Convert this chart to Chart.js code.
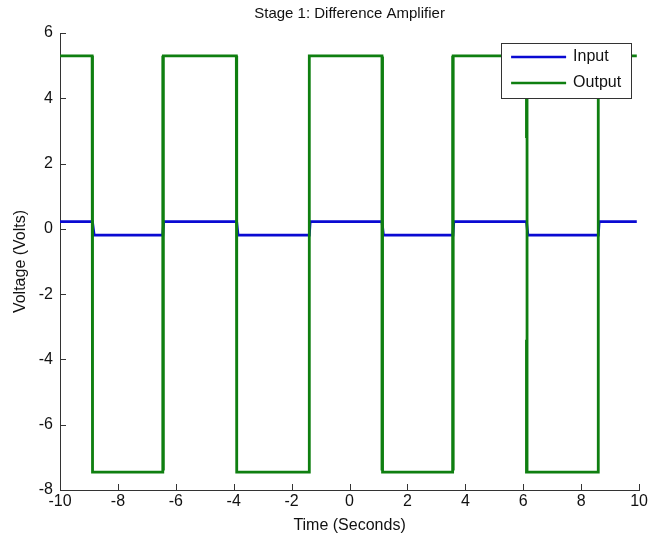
<!DOCTYPE html>
<html>
<head>
<meta charset="utf-8">
<script src="https://cdn.jsdelivr.net/npm/chart.js@4/dist/chart.umd.min.js"></script>
<style>
  html, body { margin: 0; padding: 0; background: #ffffff; }
  #wrap { width: 650px; height: 544px; position: relative; }
</style>
</head>
<body>
<div id="wrap"><canvas id="c" width="650" height="544"></canvas></div>
<script>
// ---- data ----
const chartTitle = 'Stage 1: Difference Amplifier';
const xTitle = 'Time (Seconds)';
const yTitle = 'Voltage (Volts)';
const seriesNames = ['Input', 'Output'];

const xTickValues = [-10, -8, -6, -4, -2, 0, 2, 4, 6, 8, 10];
const yTickValues = [-8, -6, -4, -2, 0, 2, 4, 6];

const inputTime = [-10, -8.88, -8.82, -6.45, -6.42, -3.90, -3.85, -1.39, -1.36, 1.12, 1.17, 3.57, 3.60, 6.11, 6.16, 8.59, 8.62, 9.92];
const inputVolt = [0.22, 0.22, -0.19, -0.19, 0.22, 0.22, -0.19, -0.19, 0.22, 0.22, -0.19, -0.19, 0.22, 0.22, -0.19, -0.19, 0.22, 0.22];

const outputTime = [-10, -8.89, -8.89, -8.87, -8.87,
                    -6.45, -6.45, -6.43, -6.43,
                    -3.91, -3.91, -3.89, -3.89,
                    -1.39, -1.39,
                    1.12, 1.12, 1.14, 1.14,
                    3.56, 3.56, 3.58, 3.58,
                    6.11, 6.11, 6.13, 6.13, 6.11, 6.11,
                    8.59, 8.59, 9.92];
const outputVolt = [5.3, 5.3, -1.16, 5.28, -7.45,
                    -7.45, 5.3, -7.4, 5.3,
                    5.3, 2.57, 5.28, -7.45,
                    -7.45, 5.3,
                    5.3, -7.4, 5.28, -7.45,
                    -7.45, 5.3, -7.4, 5.3,
                    5.3, 2.78, 5.28, -7.45, -3.4, -7.45,
                    -7.45, 5.3, 5.3];

const seriesColors = ['#0a0ad2', '#0f7f10'];

function pts(xs, ys) { return xs.map((x, i) => ({ x: x, y: ys[i] })); }

const FONT = "'Liberation Sans', Arial, sans-serif";

const inwardTicks = {
  id: 'inwardTicks',
  afterDraw(chart) {
    const ctx = chart.ctx;
    const a = chart.chartArea;
    const xs = chart.scales.x, ys = chart.scales.y;
    ctx.save();
    ctx.strokeStyle = '#333333';
    ctx.lineWidth = 1;
    ctx.beginPath();
    xs.ticks.forEach(t => {
      const px = Math.round(xs.getPixelForValue(t.value)) + 0.5;
      ctx.moveTo(px, a.bottom);
      ctx.lineTo(px, a.bottom - 6);
    });
    ys.ticks.forEach(t => {
      const py = Math.round(ys.getPixelForValue(t.value)) + 0.5;
      ctx.moveTo(a.left, py);
      ctx.lineTo(a.left + 6, py);
    });
    ctx.stroke();
    ctx.restore();
  }
};

const titleAndLegend = {
  id: 'titleAndLegend',
  afterDraw(chart) {
    const ctx = chart.ctx;
    const a = chart.chartArea;
    ctx.save();
    // title centred over the plotting area
    ctx.font = '15px ' + FONT;
    ctx.fillStyle = '#111111';
    ctx.textAlign = 'center';
    ctx.textBaseline = 'middle';
    ctx.fillText(chartTitle, (a.left + a.right) / 2, a.top - 19);
    // boxed legend in the upper right
    const w = 130, h = 55;
    const x0 = a.right - 8 - w, y0 = a.top + 10;
    ctx.fillStyle = '#ffffff';
    ctx.fillRect(x0, y0, w, h);
    ctx.strokeStyle = '#333333';
    ctx.lineWidth = 1;
    ctx.strokeRect(Math.round(x0) + 0.5, Math.round(y0) + 0.5, w, h);
    ctx.font = '16px ' + FONT;
    ctx.textAlign = 'left';
    ctx.fillStyle = '#111111';
    chart.data.datasets.forEach((ds, i) => {
      const yy = y0 + 14 + i * 26;
      ctx.strokeStyle = ds.borderColor;
      ctx.lineWidth = 2.5;
      ctx.beginPath();
      ctx.moveTo(x0 + 10, yy);
      ctx.lineTo(x0 + 65, yy);
      ctx.stroke();
      ctx.fillText(ds.label, x0 + 72, yy);
    });
    ctx.restore();
  }
};

new Chart(document.getElementById('c'), {
  type: 'scatter',
  data: {
    datasets: [
      { label: seriesNames[0], data: pts(inputTime, inputVolt), showLine: true, borderColor: seriesColors[0], backgroundColor: seriesColors[0], borderWidth: 2.8, pointRadius: 0, order: 1 },
      { label: seriesNames[1], data: pts(outputTime, outputVolt), showLine: true, borderColor: seriesColors[1], backgroundColor: seriesColors[1], borderWidth: 2.8, pointRadius: 0, order: 0 }
    ]
  },
  options: {
    responsive: false,
    animation: false,
    layout: { padding: { top: 33, right: 9, left: 0, bottom: 0 } },
    plugins: {
      legend: { display: false },
      tooltip: { enabled: false },
      title: { display: false }
    },
    scales: {
      x: {
        type: 'linear', min: -10, max: 10,
        afterBuildTicks: s => { s.ticks = xTickValues.map(v => ({ value: v })); },
        afterFit: s => { s.height = 54; },
        grid: { display: false, drawTicks: false },
        border: { display: true, color: '#333333', width: 1 },
        ticks: { color: '#111111', font: { family: FONT, size: 16 }, padding: 2, maxRotation: 0, autoSkip: false },
        title: { display: true, text: xTitle, color: '#111111', font: { family: FONT, size: 16 }, padding: { top: 0, bottom: 9 } }
      },
      y: {
        type: 'linear', min: -8, max: 6,
        afterBuildTicks: s => { s.ticks = yTickValues.map(v => ({ value: v })); },
        afterFit: s => { s.width = 60; },
        grid: { display: false, drawTicks: false },
        border: { display: true, color: '#333333', width: 1 },
        ticks: { color: '#111111', font: { family: FONT, size: 16 }, padding: 7, autoSkip: false },
        title: { display: true, text: yTitle, color: '#111111', font: { family: FONT, size: 16 }, padding: { top: 11, bottom: 0 } }
      }
    }
  },
  plugins: [inwardTicks, titleAndLegend]
});
</script>
</body>
</html>
